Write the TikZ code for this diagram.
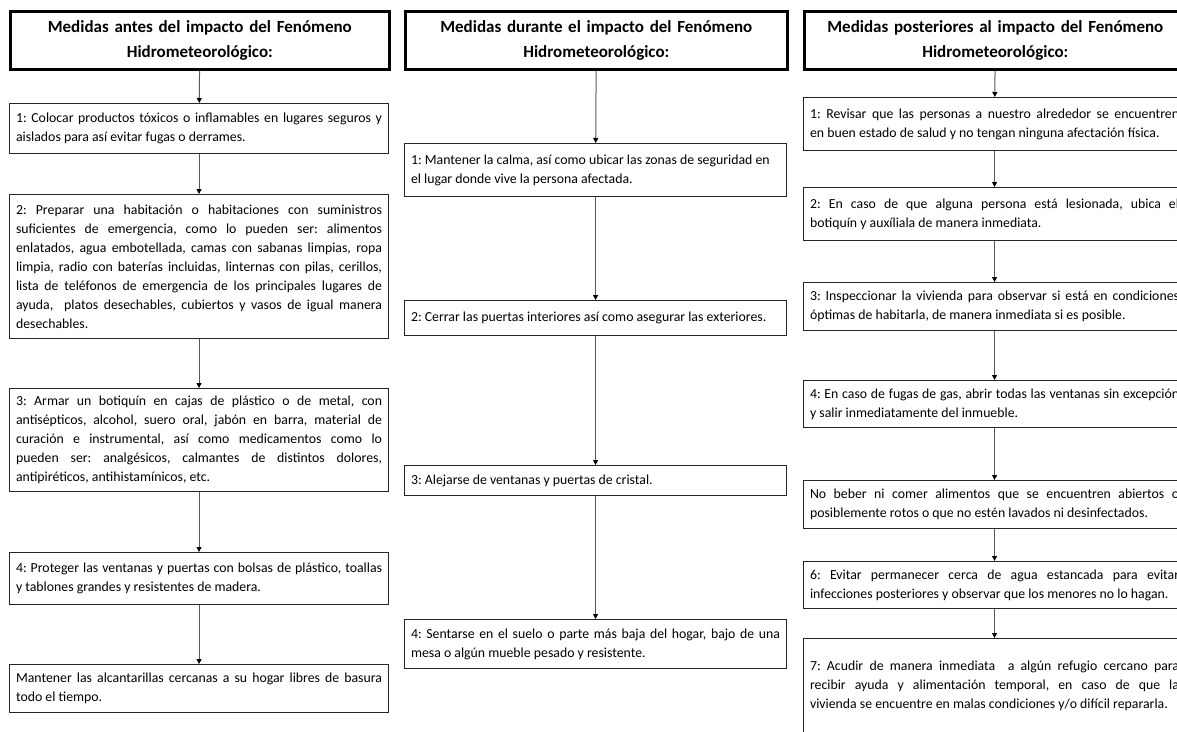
\documentclass[tikz,border=0pt]{standalone}
\usepackage{fontspec}
\setmainfont{Carlito}
\usetikzlibrary{arrows.meta}

\begin{document}
\frenchspacing
\begin{tikzpicture}[x=1pt, y=-1pt,
    titlebox/.style={draw, line width=2.6pt, anchor=north west, align=center,
        inner xsep=6.5pt, minimum height=58pt, font=\fontsize{17}{25}\selectfont\bfseries},
    stepbox/.style={draw=black!85, line width=1.1pt, anchor=north west, align=justify,
        inner xsep=6.5pt, font=\fontsize{13.8}{19}\selectfont},
    colA/.style={text width=366pt},
    colB/.style={text width=369pt},
    flow/.style={draw=black!65, line width=1pt, -{Triangle[width=5pt,length=5pt,color=black]}}
]

    % Page size of the reference, boxes of the last column run past it
    \useasboundingbox (0,0) rectangle (1177,731);
    \clip (0,0) rectangle (1177,731);

    % Column 1: before the impact
    \node[titlebox, colA] (antes) at (9,10) {Medidas antes del impacto del Fenómeno\\Hidrometeorológico:};
    \node[stepbox, colA, minimum height=50pt] (a1) at (9,103)
        {1: Colocar productos tóxicos o inflamables en lugares seguros y\linebreak
         aislados para así evitar fugas o derrames.};
    \node[stepbox, colA, minimum height=144pt] (a2) at (9,194)
        {2: Preparar una habitación o habitaciones con suministros\linebreak
         suficientes de emergencia, como lo pueden ser: alimentos\linebreak
         enlatados, agua embotellada, camas con sabanas limpias, ropa\linebreak
         limpia, radio con baterías incluidas, linternas con pilas, cerillos,\linebreak
         lista de teléfonos de emergencia de los principales lugares de\linebreak
         ayuda,\ \ platos desechables, cubiertos y vasos de igual manera\linebreak
         desechables.};
    \node[stepbox, colA, minimum height=103pt] (a3) at (9,388)
        {3: Armar un botiquín en cajas de plástico o de metal, con\linebreak
         antisépticos, alcohol, suero oral, jabón en barra, material de\linebreak
         curación e instrumental, así como medicamentos como lo\linebreak
         pueden ser: analgésicos, calmantes de distintos dolores,\linebreak
         antipiréticos, antihistamínicos, etc.};
    \node[stepbox, colA, minimum height=52pt] (a4) at (9,552)
        {4: Proteger las ventanas y puertas con bolsas de plástico, toallas\linebreak
         y tablones grandes y resistentes de madera.};
    \node[stepbox, colA, minimum height=48pt] (a5) at (9,664)
        {Mantener las alcantarillas cercanas a su hogar libres de basura\linebreak
         todo el tiempo.};

    % Column 2: during the impact
    \node[titlebox, colB] (durante) at (404,10) {Medidas durante el impacto del Fenómeno\\Hidrometeorológico:};
    \node[stepbox, colB, minimum height=53pt] (d1) at (404,143)
        {1: Mantener la calma, así como ubicar las zonas de seguridad en\newline
         el lugar donde vive la persona afectada.};
    \node[stepbox, colB, minimum height=35pt] (d2) at (404,300)
        {2: Cerrar las puertas interiores así como asegurar las exteriores.};
    \node[stepbox, colB, minimum height=30pt] (d3) at (404,465)
        {3: Alejarse de ventanas y puertas de cristal.};
    \node[stepbox, colB, minimum height=49pt] (d4) at (404,619)
        {4: Sentarse en el suelo o parte más baja del hogar, bajo de una\linebreak
         mesa o algún mueble pesado y resistente.};

    % Column 3: after the impact
    \node[titlebox, colB] (despues) at (803,10) {Medidas posteriores al impacto del Fenómeno\\Hidrometeorológico:};
    \node[stepbox, colB, minimum height=53pt] (p1) at (803,97)
        {1: Revisar que las personas a nuestro alrededor se encuentren\linebreak
         en buen estado de salud y no tengan ninguna afectación física.};
    \node[stepbox, colB, minimum height=53pt] (p2) at (803,187)
        {2: En caso de que alguna persona está lesionada, ubica el\linebreak
         botiquín y auxíliala de manera inmediata.};
    \node[stepbox, colB, minimum height=48pt] (p3) at (803,282)
        {3: Inspeccionar la vivienda para observar si está en condiciones\linebreak
         óptimas de habitarla, de manera inmediata si es posible.};
    \node[stepbox, colB, minimum height=47pt] (p4) at (803,380)
        {4: En caso de fugas de gas, abrir todas las ventanas sin excepción\linebreak
         y salir inmediatamente del inmueble.};
    \node[stepbox, colB, minimum height=48pt] (p5) at (803,480)
        {No beber ni comer alimentos que se encuentren abiertos o\linebreak
         posiblemente rotos o que no estén lavados ni desinfectados.};
    \node[stepbox, colB, minimum height=47pt] (p6) at (803,561)
        {6: Evitar permanecer cerca de agua estancada para evitar\linebreak
         infecciones posteriores y observar que los menores no lo hagan.};
    \node[stepbox, colB, minimum height=95pt] (p7) at (803,638)
        {7: Acudir de manera inmediata\ \ a algún refugio cercano para\linebreak
         recibir ayuda y alimentación temporal, en caso de que la\linebreak
         vivienda se encuentre en malas condiciones y/o difícil repararla.};

    % Arrows down each column
    \draw[flow] (antes) -- (a1);
    \draw[flow] (a1) -- (a2);
    \draw[flow] (a2) -- (a3);
    \draw[flow] (a3) -- (a4);
    \draw[flow] (a4) -- (a5);

    \draw[flow] (durante) -- (d1);
    \draw[flow] (d1) -- (d2);
    \draw[flow] (d2) -- (d3);
    \draw[flow] (d3) -- (d4);

    \draw[flow] (despues) -- (p1);
    \draw[flow] (p1) -- (p2);
    \draw[flow] (p2) -- (p3);
    \draw[flow] (p3) -- (p4);
    \draw[flow] (p4) -- (p5);
    \draw[flow] (p5) -- (p6);
    \draw[flow] (p6) -- (p7);

\end{tikzpicture}
\end{document}
